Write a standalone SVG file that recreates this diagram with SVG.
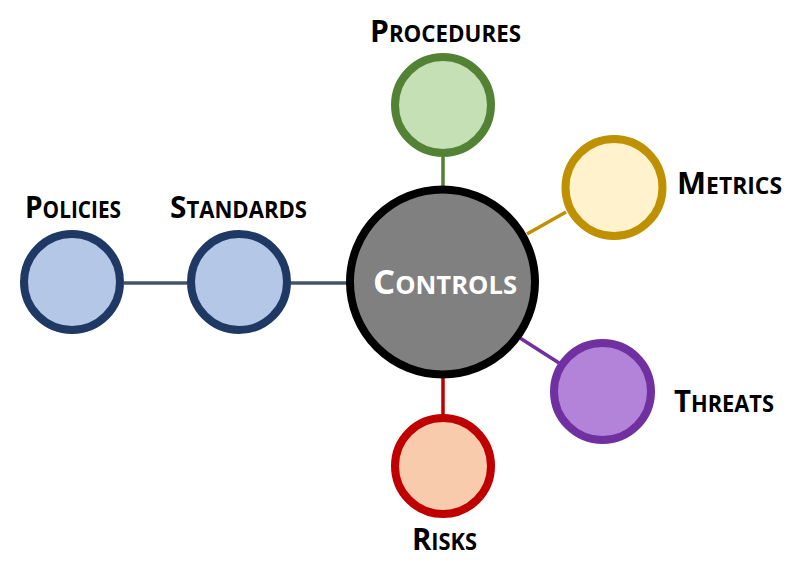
<svg xmlns="http://www.w3.org/2000/svg" width="800" height="581" viewBox="0 0 800 581">
<style>
.lbl{font-family:"Open Sans","Liberation Sans",sans-serif;font-weight:700;fill:#000;}
.big{font-size:31px;}
.sm{font-size:23px;}
.node{stroke-width:8;}
.conn{fill:none;stroke-width:3.5;}
</style>
<rect width="800" height="581" fill="#fff"/>
<g id="connectors">
<line class="conn" x1="124" y1="283" x2="187" y2="283" stroke="#44546A"/>
<line class="conn" x1="291" y1="283" x2="347" y2="283" stroke="#44546A"/>
<line class="conn" x1="443" y1="157" x2="443" y2="186" stroke="#548235"/>
<line class="conn" x1="527" y1="234" x2="566" y2="212" stroke="#BF9000"/>
<line class="conn" x1="520" y1="338" x2="559" y2="363" stroke="#7030A0"/>
<line class="conn" x1="443" y1="378" x2="443" y2="415" stroke="#C00000"/>
</g>
<g id="policies">
<circle class="node" cx="72" cy="282" r="48" fill="#B4C7E7" stroke="#1F3864"/>
<text class="lbl" x="25" y="218" textLength="96" lengthAdjust="spacingAndGlyphs"><tspan class="big">P</tspan><tspan class="sm">OLICIES</tspan></text>
</g>
<g id="standards">
<circle class="node" cx="239" cy="282" r="48" fill="#B4C7E7" stroke="#1F3864"/>
<text class="lbl" x="170" y="218" textLength="137" lengthAdjust="spacingAndGlyphs"><tspan class="big">S</tspan><tspan class="sm">TANDARDS</tspan></text>
</g>
<g id="procedures">
<circle class="node" cx="443" cy="105" r="48" fill="#C5E0B4" stroke="#548235"/>
<text class="lbl" x="370" y="42" textLength="151" lengthAdjust="spacingAndGlyphs"><tspan class="big">P</tspan><tspan class="sm">ROCEDURES</tspan></text>
</g>
<g id="metrics">
<circle class="node" cx="614" cy="187.5" r="48.5" fill="#FFF2CC" stroke="#BF9000"/>
<text class="lbl" x="677" y="194" textLength="105" lengthAdjust="spacingAndGlyphs"><tspan class="big">M</tspan><tspan class="sm">ETRICS</tspan></text>
</g>
<g id="threats">
<circle class="node" cx="602.5" cy="391.5" r="48.5" fill="#B383D9" stroke="#7030A0"/>
<text class="lbl" x="674" y="412" textLength="100" lengthAdjust="spacingAndGlyphs"><tspan class="big">T</tspan><tspan class="sm">HREATS</tspan></text>
</g>
<g id="risks">
<circle class="node" cx="443" cy="466" r="48" fill="#F8CBAD" stroke="#C00000"/>
<text class="lbl" x="412" y="550" textLength="65" lengthAdjust="spacingAndGlyphs"><tspan class="big">R</tspan><tspan class="sm">ISKS</tspan></text>
</g>
<g id="controls">
<circle cx="442.5" cy="282" r="92.5" fill="#808080" stroke="#000" stroke-width="8"/>
<text class="lbl" x="373" y="294" textLength="144" lengthAdjust="spacingAndGlyphs" style="fill:#fff"><tspan style="font-size:34px">C</tspan><tspan style="font-size:25px">ONTROLS</tspan></text>
</g>
</svg>
